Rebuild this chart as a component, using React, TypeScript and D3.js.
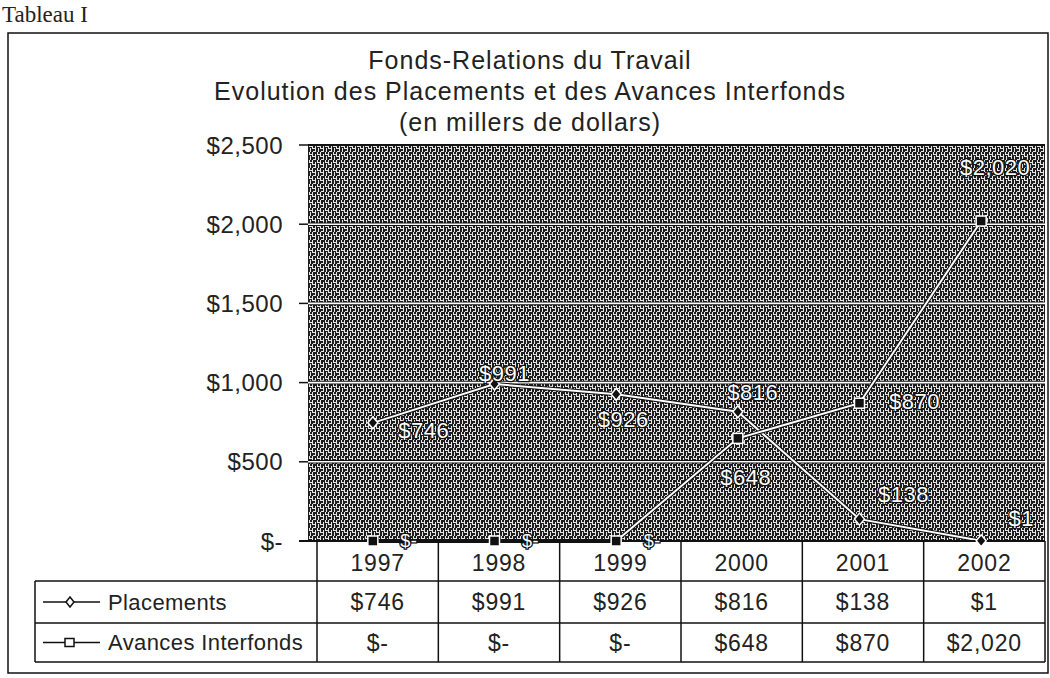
import * as d3 from "d3";

// chart data
const years = ["1997", "1998", "1999", "2000", "2001", "2002"];
const placements = [746, 991, 926, 816, 138, 1];
const avances = [0, 0, 0, 648, 870, 2020];
const yTicks = [0, 500, 1000, 1500, 2000, 2500];
const titleLines = [
  "Fonds-Relations du Travail",
  "Evolution des Placements et des Avances Interfonds",
  "(en millers de dollars)",
];
const seriesNames = ["Placements", "Avances Interfonds"];

// where each data label sits relative to its point (dx, dy)
const placementsLabelShift = [[51, 7], [10, -11], [7, 25], [15, -20], [44, -25], [40, -23]];
const avancesLabelShift = [[36, 0], [36, 0], [36, 0], [8, 39], [55, -2], [14, -54]];

const W = 1050;
const H = 678;
const plot = { l: 308, r: 1045, t: 145, b: 541 };
const rows = [541, 581, 623, 662];
const sans = "'Liberation Sans', Arial, sans-serif";

const fmt = (v: number) => (v === 0 ? "$-" : "$" + d3.format(",")(v));

const App = () => {
  const x = d3.scaleBand().domain(years).range([312, 1042]);
  const xTable = d3.scaleBand().domain(years).range([317, 1045]);
  const y = d3.scaleLinear().domain([0, 2500]).range([plot.b, plot.t]);
  const cx = (yr: string) => (x(yr) as number) + x.bandwidth() / 2;

  const line = d3
    .line<number>()
    .x((_, i) => cx(years[i]))
    .y((d) => y(d));

  const series = [
    { name: seriesNames[0], vals: placements, shift: placementsLabelShift, mark: "diamond" },
    { name: seriesNames[1], vals: avances, shift: avancesLabelShift, mark: "square" },
  ];

  const marker = (kind: string, px: number, py: number, key: string) =>
    kind === "square" ? (
      <rect key={key} x={px - 5} y={py - 5} width={10} height={10} fill="#111" stroke="#fff" strokeWidth={1.5} />
    ) : (
      <path
        key={key}
        d={`M${px},${py - 6}L${px + 5},${py}L${px},${py + 6}L${px - 5},${py}Z`}
        fill="#111"
        stroke="#fff"
        strokeWidth={1.5}
      />
    );

  return (
    <div style={{ position: "absolute", left: 0, top: 0 }}>
      <svg width={W} height={H} style={{ display: "block", background: "#fff" }}>
        <defs>
          <pattern id="tex" width="8" height="8" patternUnits="userSpaceOnUse">
            <rect width="8" height="8" fill="#1e1e1e" />
            <path
              d="M0.5,0V5 M1,4.5H3 M3.5,2V8 M5.5,0V3 M6,2.5H8 M6.5,4V8 M1,7.5H3"
              stroke="#e6e6e6"
              strokeWidth={1}
            />
          </pattern>
        </defs>

        {/* page heading */}
        <text x={2} y={22} fontFamily="'Liberation Serif', serif" fontSize={23} fill="#222">
          Tableau I
        </text>

        {/* outer frame */}
        <rect x={8} y={33} width={1040} height={640} fill="none" stroke="#111" strokeWidth={1.5} />

        {/* title */}
        {titleLines.map((t, i) => (
          <text
            key={t}
            x={530}
            y={69 + i * 31}
            textAnchor="middle"
            fontFamily={sans}
            fontSize={25}
            letterSpacing={1}
            fill="#222"
          >
            {t}
          </text>
        ))}

        {/* plot area */}
        <rect x={plot.l} y={plot.t} width={plot.r - plot.l} height={plot.b - plot.t} fill="url(#tex)" />
        <line x1={plot.l} x2={plot.r} y1={plot.t} y2={plot.t} stroke="#111" strokeWidth={2} />
        {yTicks
          .filter((t) => t > 0 && t < 2500)
          .map((t) => (
            <g key={t}>
              <line x1={plot.l} x2={plot.r} y1={y(t)} y2={y(t)} stroke="#111" strokeWidth={3.5} />
              <line x1={plot.l} x2={plot.r} y1={y(t)} y2={y(t)} stroke="#fff" strokeWidth={1.6} />
            </g>
          ))}

        {/* y axis labels + ticks */}
        {yTicks.map((t) => (
          <g key={"yt" + t}>
            <line x1={299} x2={plot.l} y1={y(t)} y2={y(t)} stroke="#111" strokeWidth={1.5} />
            <text
              x={283}
              y={y(t)}
              dy="0.36em"
              textAnchor="end"
              fontFamily={sans}
              fontSize={24}
              letterSpacing={0.5}
              fill="#222"
            >
              {fmt(t)}
            </text>
          </g>
        ))}

        {/* series lines */}
        {series.map((s) => (
          <g key={s.name}>
            <path d={line(s.vals) as string} fill="none" stroke="#111" strokeWidth={4} />
            <path d={line(s.vals) as string} fill="none" stroke="#fff" strokeWidth={2} />
          </g>
        ))}

        {/* x axis line */}
        <line x1={299} x2={plot.r} y1={plot.b} y2={plot.b} stroke="#111" strokeWidth={2} />

        {/* markers */}
        {series.map((s) => s.vals.map((v, i) => marker(s.mark, cx(years[i]), y(v), s.name + i)))}

        {/* data labels */}
        {series.map((s) =>
          s.vals.map((v, i) => (
            <text
              key={"lb" + s.name + i}
              x={cx(years[i]) + s.shift[i][0]}
              y={y(v) + s.shift[i][1]}
              dy="0.36em"
              textAnchor="middle"
              fontFamily={sans}
              fontSize={v === 0 ? 18 : 22}
              letterSpacing={0.5}
              fill="#fff"
              stroke="#111"
              strokeWidth={2.5}
              paintOrder="stroke"
            >
              {fmt(v)}
            </text>
          ))
        )}

        {/* data table */}
        <g fontFamily={sans} fontSize={23} fill="#222" letterSpacing={0.8}>
          {years.map((yr) => (
            <text
              key={"h" + yr}
              x={(xTable(yr) as number) + xTable.bandwidth() / 2}
              y={(rows[0] + rows[1]) / 2 + 2}
              dy="0.36em"
              textAnchor="middle"
            >
              {yr}
            </text>
          ))}
          {series.map((s, si) =>
            s.vals.map((v, i) => (
              <text
                key={"c" + si + i}
                x={(xTable(years[i]) as number) + xTable.bandwidth() / 2}
                y={(rows[si + 1] + rows[si + 2]) / 2}
                dy="0.36em"
                textAnchor="middle"
              >
                {fmt(v)}
              </text>
            ))
          )}
          {series.map((s, si) => (
            <text
              key={"n" + si}
              x={108}
              y={(rows[si + 1] + rows[si + 2]) / 2}
              dy="0.36em"
              fontSize={22}
              letterSpacing={0.4}
            >
              {s.name}
            </text>
          ))}
        </g>
        {/* table grid */}
        <g stroke="#111" strokeWidth={1.5}>
          {[...years.map((yr) => xTable(yr) as number), xTable.range()[1]].map((xv, i) => (
            <line key={"v" + i} x1={xv} x2={xv} y1={rows[0]} y2={rows[3]} />
          ))}
          <line x1={35} x2={1045} y1={rows[1]} y2={rows[1]} />
          <line x1={35} x2={1045} y1={rows[2]} y2={rows[2]} />
          <line x1={35} x2={1045} y1={rows[3]} y2={rows[3]} />
          <line x1={35} x2={35} y1={rows[1]} y2={rows[3]} />
        </g>
        {/* legend keys in table */}
        {series.map((s, si) => {
          const ly = (rows[si + 1] + rows[si + 2]) / 2;
          return (
            <g key={"k" + si}>
              <line x1={43} x2={100} y1={ly} y2={ly} stroke="#111" strokeWidth={1.5} />
              {s.mark === "square" ? (
                <rect x={65} y={ly - 4} width={9} height={8} fill="#fff" stroke="#111" strokeWidth={1.5} />
              ) : (
                <path d={`M70,${ly - 5}L74,${ly}L70,${ly + 5}L66,${ly}Z`} fill="#fff" stroke="#111" strokeWidth={1.5} />
              )}
            </g>
          );
        })}
      </svg>
    </div>
  );
};

export default App;
